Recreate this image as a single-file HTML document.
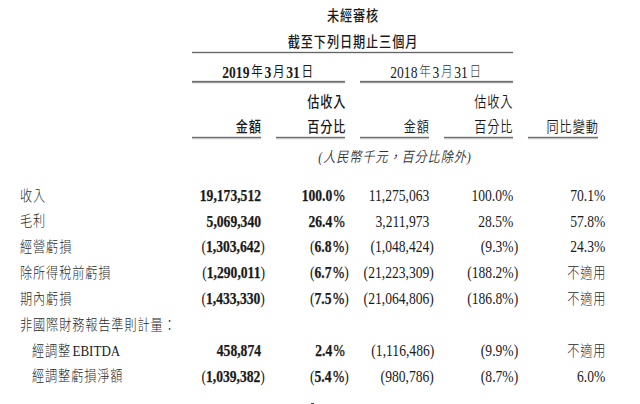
<!DOCTYPE html>
<html lang="zh-Hant">
<head>
<meta charset="utf-8">
<title>未經審核</title>
<style>
html,body{margin:0;padding:0;background:#fff;}
body{width:640px;height:404px;position:relative;overflow:hidden;}
.t{position:absolute;white-space:nowrap;line-height:20px;height:20px;color:#1a1a1a;
  font-family:"Liberation Serif","Noto Sans CJK TC",serif;font-size:16.0px;}
.c{font-family:"Liberation Sans","Noto Sans CJK TC",sans-serif;font-size:14.4px;letter-spacing:1.05px;font-weight:350;}
.c.b{font-weight:500;}
.c.r{margin-right:-1.05px;}
.c.m{margin-left:.5px;}
.c.lab{color:#2a2a2a;font-weight:300;}
.e{font-family:"Liberation Serif",serif;font-size:15.4px;font-weight:400;letter-spacing:0;margin-left:1.6px;color:#1a1a1a;}
.b{font-weight:bold;}
.n{-webkit-text-stroke:.25px #1a1a1a;}
.n .p,.n .q{-webkit-text-stroke:0;}
.r{transform-origin:100% 50%;transform:scaleX(0.85);}
.l{transform-origin:0 50%;transform:scaleX(0.85);}
.m{transform-origin:50% 50%;transform:scaleX(0.85);}
.c.r,.c.l,.c.m{transform:scaleX(0.845);}
.p{display:inline-block;width:0;overflow:visible;}
.b .p,.b .q{font-weight:normal;}
.pc{font-weight:normal;margin-left:1.6px;-webkit-text-stroke:.35px #1a1a1a;}
.d{font-family:"Liberation Sans","Noto Sans CJK TC",sans-serif;font-size:13.6px;font-weight:400;margin:0 2px;position:relative;top:-2.1px;}
.ln{position:absolute;height:1px;background:#666;box-shadow:0 -1px 0 #e4e4e4,0 1px 0 #e4e4e4;}
.ln2{background:#707070;box-shadow:0 -1px 0 #e8e8e8,0 1px 0 #959595,0 2px 0 #eeeeee;}
.ln3{background:#6e6e6e;box-shadow:0 -1px 0 #e2e2e2,0 1px 0 #c4c4c4,0 2px 0 #f2f2f2;}
.it{font-style:italic;color:#333;}
.it .pp{font-family:"Liberation Serif",serif;}
</style>
</head>
<body>

<div class="t c b m" style="left:302px;width:100px;text-align:center;top:6px;">未經審核</div>
<div class="t c b m" style="left:252px;width:200px;text-align:center;top:32px;">截至下列日期止三個月</div>
<div class="ln" style="left:192px;width:321px;top:52px;"></div>
<div class="t b m" style="left:192px;width:153px;text-align:center;top:63px;">2019<span class="d">年</span>3<span class="d">月</span>31<span class="d">日</span></div>
<div class="t m" style="left:360px;width:153px;text-align:center;top:63px;">2018<span class="d" style="font-weight:300;color:#333">年</span>3<span class="d" style="font-weight:300;color:#333">月</span>31<span class="d" style="font-weight:300;color:#333">日</span></div>
<div class="ln ln2" style="left:192px;width:153px;top:81px;"></div>
<div class="ln ln2" style="left:360px;width:153px;top:81px;"></div>
<div class="t c b r" style="right:295.0px;top:92px;">估收入</div>
<div class="t c r" style="right:127.5px;top:92px;">估收入</div>
<div class="t c b r" style="right:379.0px;top:117px;">金額</div>
<div class="t c b r" style="right:295.0px;top:117px;">百分比</div>
<div class="t c r" style="right:211.0px;top:117px;">金額</div>
<div class="t c r" style="right:127.5px;top:117px;">百分比</div>
<div class="t c r" style="right:42.5px;top:117px;">同比變動</div>
<div class="ln ln3" style="left:192px;width:69px;top:137px;"></div>
<div class="ln ln3" style="left:276px;width:69px;top:137px;"></div>
<div class="ln ln3" style="left:360px;width:69px;top:137px;"></div>
<div class="ln ln3" style="left:444px;width:69px;top:137px;"></div>
<div class="ln ln3" style="left:528px;width:70px;top:137px;"></div>
<div class="t c it m" style="left:294px;width:200px;text-align:center;top:146.5px;"><span class="pp">(</span>人民幣千元，百分比除外<span class="pp">)</span></div>
<div class="t c l lab" style="left:19.5px;top:185.5px;">收入</div>
<div class="t r b n" style="right:379.2px;top:185.8px;">19,173,512</div>
<div class="t r b n" style="right:295.5px;top:185.8px;">100.0<span class="pc">%</span></div>
<div class="t r" style="right:210.2px;top:185.8px;">11,275,063</div>
<div class="t r" style="right:126.8px;top:185.8px;">100.0%</div>
<div class="t r" style="right:34.8px;top:185.8px;">70.1%</div>
<div class="t c l lab" style="left:19.5px;top:211.3px;">毛利</div>
<div class="t r b n" style="right:379.2px;top:211.6px;">5,069,340</div>
<div class="t r b n" style="right:295.5px;top:211.6px;">26.4<span class="pc">%</span></div>
<div class="t r" style="right:210.2px;top:211.6px;">3,211,973</div>
<div class="t r" style="right:126.8px;top:211.6px;">28.5%</div>
<div class="t r" style="right:34.8px;top:211.6px;">57.8%</div>
<div class="t c l lab" style="left:19.5px;top:236.8px;">經營虧損</div>
<div class="t r b n" style="right:379.2px;top:237.1px;"><span class="q">(</span>1,303,642<span class="p">)</span></div>
<div class="t r b n" style="right:295.5px;top:237.1px;"><span class="q">(</span>6.8<span class="pc">%</span><span class="p">)</span></div>
<div class="t r" style="right:210.2px;top:237.1px;">(1,048,424<span class="p">)</span></div>
<div class="t r" style="right:126.8px;top:237.1px;">(9.3%<span class="p">)</span></div>
<div class="t r" style="right:34.8px;top:237.1px;">24.3%</div>
<div class="t c l lab" style="left:19.5px;top:262.7px;">除所得稅前虧損</div>
<div class="t r b n" style="right:379.2px;top:263.0px;"><span class="q">(</span>1,290,011<span class="p">)</span></div>
<div class="t r b n" style="right:295.5px;top:263.0px;"><span class="q">(</span>6.7<span class="pc">%</span><span class="p">)</span></div>
<div class="t r" style="right:210.2px;top:263.0px;">(21,223,309<span class="p">)</span></div>
<div class="t r" style="right:126.8px;top:263.0px;">(188.2%<span class="p">)</span></div>
<div class="t c r lab" style="right:34.8px;top:262.7px;">不適用</div>
<div class="t c l lab" style="left:19.5px;top:288.6px;">期內虧損</div>
<div class="t r b n" style="right:379.2px;top:288.9px;"><span class="q">(</span>1,433,330<span class="p">)</span></div>
<div class="t r b n" style="right:295.5px;top:288.9px;"><span class="q">(</span>7.5<span class="pc">%</span><span class="p">)</span></div>
<div class="t r" style="right:210.2px;top:288.9px;">(21,064,806<span class="p">)</span></div>
<div class="t r" style="right:126.8px;top:288.9px;">(186.8%<span class="p">)</span></div>
<div class="t c r lab" style="right:34.8px;top:288.6px;">不適用</div>
<div class="t c l lab" style="left:19.5px;top:314.5px;">非國際財務報告準則計量：</div>
<div class="t c l lab" style="left:32.0px;top:340.5px;">經調整<span class="e">EBITDA</span></div>
<div class="t r b n" style="right:379.2px;top:340.8px;">458,874</div>
<div class="t r b n" style="right:295.5px;top:340.8px;">2.4<span class="pc">%</span></div>
<div class="t r" style="right:210.2px;top:340.8px;">(1,116,486<span class="p">)</span></div>
<div class="t r" style="right:126.8px;top:340.8px;">(9.9%<span class="p">)</span></div>
<div class="t c r lab" style="right:34.8px;top:340.5px;">不適用</div>
<div class="t c l lab" style="left:32.0px;top:366.4px;">經調整虧損淨額</div>
<div class="t r b n" style="right:379.2px;top:366.7px;"><span class="q">(</span>1,039,382<span class="p">)</span></div>
<div class="t r b n" style="right:295.5px;top:366.7px;"><span class="q">(</span>5.4<span class="pc">%</span><span class="p">)</span></div>
<div class="t r" style="right:210.2px;top:366.7px;">(980,786<span class="p">)</span></div>
<div class="t r" style="right:126.8px;top:366.7px;">(8.7%<span class="p">)</span></div>
<div class="t r" style="right:34.8px;top:366.7px;">6.0%</div>
<div style="position:absolute;left:310.5px;top:403px;width:3px;height:1px;background:#444;"></div>
</body>
</html>
